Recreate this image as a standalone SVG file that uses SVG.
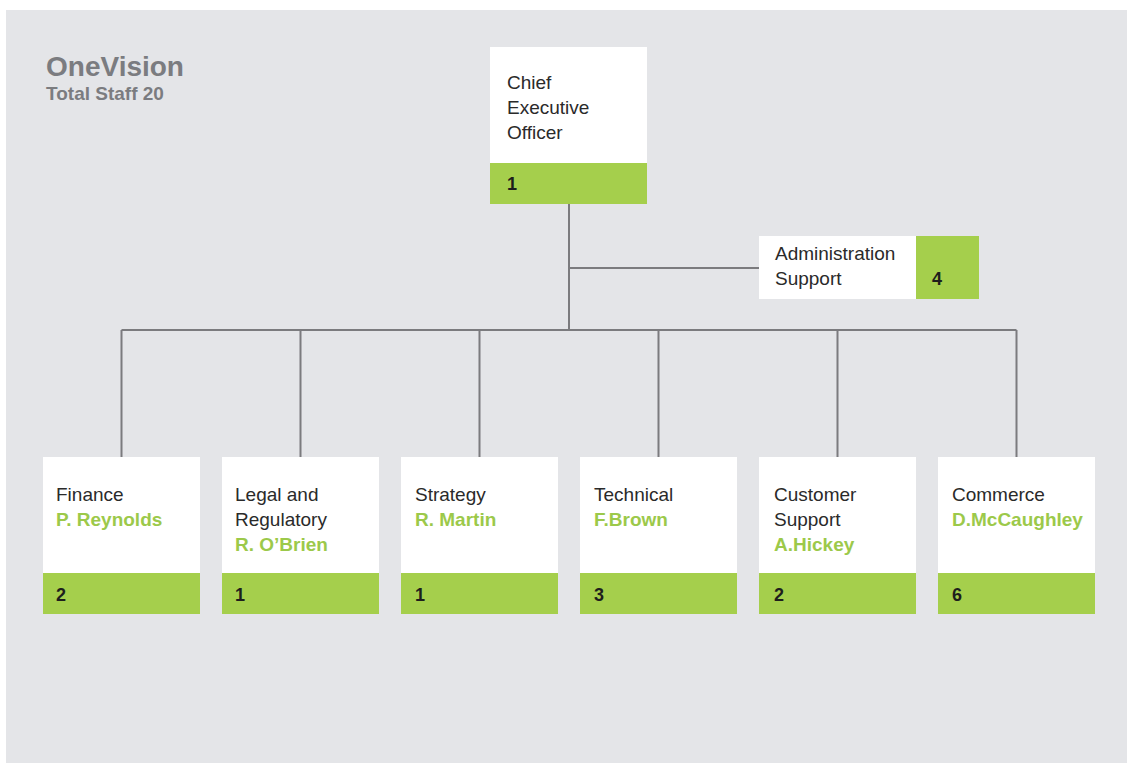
<svg xmlns="http://www.w3.org/2000/svg" width="1127" height="769" viewBox="0 0 1127 769">
<style>
.t{font-family:"Liberation Sans",Arial,sans-serif;font-size:19px;fill:#2a2a2a}
.n{font-family:"Liberation Sans",Arial,sans-serif;font-size:19px;font-weight:bold;fill:#9cc94a}
.num{font-family:"Liberation Sans",Arial,sans-serif;font-size:18px;font-weight:bold;fill:#1e1e1c}
.box{fill:#ffffff}
.band{fill:#a5cf4c}
.conn{stroke:#7b7b7e;stroke-width:2;fill:none}
.h{font-family:"Liberation Sans",Arial,sans-serif;font-weight:bold;fill:#7b7c80}
</style>
<rect x="0" y="0" width="1127" height="769" fill="#ffffff"/>
<rect x="6" y="10" width="1121" height="753" fill="#e4e5e8"/>
<g id="title">
<text class="h" x="46" y="76" font-size="28">OneVision</text>
<text class="h" x="46" y="100" font-size="19">Total Staff 20</text>
</g>
<g id="connectors">
<path class="conn" d="M569 204 V330"/>
<path class="conn" d="M569 268 H759"/>
<path class="conn" d="M121.5 330 H1016.5"/>
<path class="conn" d="M121.5 330 V457 M300.5 330 V457 M479.5 330 V457 M658.5 330 V457 M837.5 330 V457 M1016.5 330 V457"/>
</g>
<g id="ceo">
<rect class="box" x="490" y="47" width="157" height="116"/>
<rect class="band" x="490" y="163" width="157" height="41"/>
<text class="t" x="507" y="89">Chief</text>
<text class="t" x="507" y="114">Executive</text>
<text class="t" x="507" y="139">Officer</text>
<text class="num" x="507" y="190">1</text>
</g>
<g id="admin">
<rect class="box" x="759" y="236" width="157" height="63"/>
<rect class="band" x="916" y="236" width="63" height="63"/>
<text class="t" x="775" y="260">Administration</text>
<text class="t" x="775" y="285">Support</text>
<text class="num" x="932" y="285">4</text>
</g>
<g id="finance">
<rect class="box" x="43" y="457" width="157" height="116"/>
<rect class="band" x="43" y="573" width="157" height="41"/>
<text class="t" x="56" y="501">Finance</text>
<text class="n" x="56" y="526">P. Reynolds</text>
<text class="num" x="56" y="601">2</text>
</g>
<g id="legal">
<rect class="box" x="222" y="457" width="157" height="116"/>
<rect class="band" x="222" y="573" width="157" height="41"/>
<text class="t" x="235" y="501">Legal and</text>
<text class="t" x="235" y="526">Regulatory</text>
<text class="n" x="235" y="551">R. O’Brien</text>
<text class="num" x="235" y="601">1</text>
</g>
<g id="strategy">
<rect class="box" x="401" y="457" width="157" height="116"/>
<rect class="band" x="401" y="573" width="157" height="41"/>
<text class="t" x="415" y="501">Strategy</text>
<text class="n" x="415" y="526">R. Martin</text>
<text class="num" x="415" y="601">1</text>
</g>
<g id="technical">
<rect class="box" x="580" y="457" width="157" height="116"/>
<rect class="band" x="580" y="573" width="157" height="41"/>
<text class="t" x="594" y="501">Technical</text>
<text class="n" x="594" y="526">F.Brown</text>
<text class="num" x="594" y="601">3</text>
</g>
<g id="customer">
<rect class="box" x="759" y="457" width="157" height="116"/>
<rect class="band" x="759" y="573" width="157" height="41"/>
<text class="t" x="774" y="501">Customer</text>
<text class="t" x="774" y="526">Support</text>
<text class="n" x="774" y="551">A.Hickey</text>
<text class="num" x="774" y="601">2</text>
</g>
<g id="commerce">
<rect class="box" x="938" y="457" width="157" height="116"/>
<rect class="band" x="938" y="573" width="157" height="41"/>
<text class="t" x="952" y="501">Commerce</text>
<text class="n" x="952" y="526">D.McCaughley</text>
<text class="num" x="952" y="601">6</text>
</g>
</svg>
